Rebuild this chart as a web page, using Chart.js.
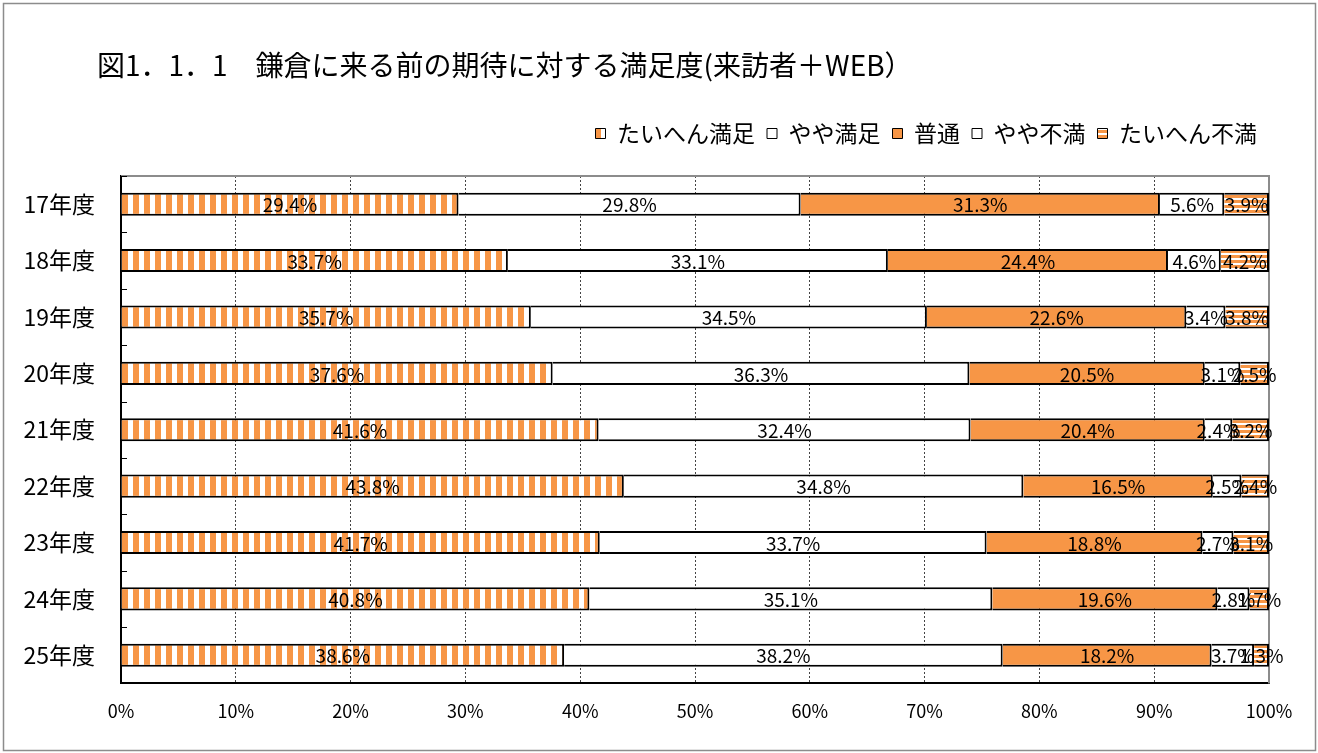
<!DOCTYPE html>
<html lang="ja">
<head>
<meta charset="utf-8">
<title>鎌倉に来る前の期待に対する満足度</title>
<script src="https://cdn.jsdelivr.net/npm/chart.js@4"></script>
<style>
  body { margin: 0; background: #fff; }
  canvas { display: block; }
</style>
</head>
<body>
<canvas id="satisfactionChart" width="1318" height="753"></canvas>
<script>
// data
const years = ["17年度", "18年度", "19年度", "20年度", "21年度", "22年度", "23年度", "24年度", "25年度"];
const seriesNames = ["たいへん満足", "やや満足", "普通", "やや不満", "たいへん不満"];
const veryGood = [29.4, 33.7, 35.7, 37.6, 41.6, 43.8, 41.7, 40.8, 38.6];
const good     = [29.8, 33.1, 34.5, 36.3, 32.4, 34.8, 33.7, 35.1, 38.2];
const normal   = [31.3, 24.4, 22.6, 20.5, 20.4, 16.5, 18.8, 19.6, 18.2];
const bad      = [5.6, 4.6, 3.4, 3.1, 2.4, 2.5, 2.7, 2.8, 3.7];
const veryBad  = [3.9, 4.2, 3.8, 2.5, 3.2, 2.4, 3.1, 1.7, 1.3];
const xTicks = [0, 10, 20, 30, 40, 50, 60, 70, 80, 90, 100];
const titleText = "図1．1．1　鎌倉に来る前の期待に対する満足度(来訪者＋WEB）";

const ORANGE = "#F79646";
const FONT = "'Noto Sans CJK JP', 'Noto Sans', sans-serif";

// striped fills
function stripes(vertical) {
  const c = document.createElement("canvas");
  const g = c.getContext("2d");
  if (vertical) {
    c.width = 11; c.height = 4;
    g.fillStyle = "#fff"; g.fillRect(0, 0, 11, 4);
    g.fillStyle = ORANGE; g.fillRect(1, 0, 6, 4);
  } else {
    c.width = 4; c.height = 5;
    g.fillStyle = "#fff"; g.fillRect(0, 0, 4, 5);
    g.fillStyle = ORANGE; g.fillRect(0, 0, 4, 3);
  }
  return g.createPattern(c, "repeat");
}

const fills = [stripes(true), "#ffffff", ORANGE, "#ffffff", stripes(false)];
const values = [veryGood, good, normal, bad, veryBad];

const datasets = values.map((arr, i) => ({
  label: seriesNames[i],
  data: arr,
  backgroundColor: fills[i],
  borderColor: "#000",
  borderWidth: 2,
  barPercentage: 0.41,
  categoryPercentage: 1,
}));

// page frame, title, plot border (top / right), inside category ticks
const framePlugin = {
  id: "frame",
  beforeDraw(chart) {
    const ctx = chart.ctx;
    ctx.save();
    ctx.fillStyle = "#fff";
    ctx.fillRect(0, 0, chart.width, chart.height);
    ctx.strokeStyle = "#8c8c8c";
    ctx.lineWidth = 1.5;
    ctx.strokeRect(3.5, 3.5, chart.width - 6, chart.height - 6);
    ctx.font = "28px " + FONT;
    ctx.fillStyle = "#000";
    ctx.textBaseline = "middle";
    ctx.fillText(titleText, 97, 65);
    ctx.restore();
  },
  beforeDatasetsDraw(chart) {
    const a = chart.chartArea;
    const ctx = chart.ctx;
    const y = chart.scales.y;
    ctx.save();
    ctx.strokeStyle = "#8c8c8c";
    ctx.lineWidth = 2;
    ctx.beginPath();
    ctx.moveTo(a.left, a.top);
    ctx.lineTo(a.right, a.top);
    ctx.lineTo(a.right, a.bottom);
    ctx.stroke();
    ctx.strokeStyle = "#000";
    ctx.lineWidth = 1;
    ctx.beginPath();
    for (let i = 0; i <= years.length; i++) {
      const py = Math.round(y.getPixelForValue(i - 0.5)) + 0.5;
      ctx.moveTo(a.left, py);
      ctx.lineTo(a.left + 6, py);
    }
    ctx.stroke();
    ctx.restore();
  },
};

// percent labels in the middle of each segment
const valueLabels = {
  id: "valueLabels",
  afterDatasetsDraw(chart) {
    const ctx = chart.ctx;
    ctx.save();
    ctx.font = "19px " + FONT;
    ctx.fillStyle = "#000";
    ctx.textAlign = "center";
    ctx.textBaseline = "middle";
    chart.data.datasets.forEach((ds, i) => {
      chart.getDatasetMeta(i).data.forEach((bar, j) => {
        const x = (bar.x + bar.base) / 2;
        ctx.fillText(ds.data[j].toFixed(1) + "%", x, bar.y + 1);
      });
    });
    ctx.restore();
  },
};

const config = {
  type: "bar",
  data: { labels: years, datasets: datasets },
  options: {
    indexAxis: "y",
    responsive: false,
    animation: false,
    layout: { padding: { left: 0, right: 49, top: 110, bottom: 14 } },
    scales: {
      x: {
        stacked: true,
        min: 0,
        max: 100,
        afterBuildTicks(scale) { scale.ticks = xTicks.map(v => ({ value: v })); },
        ticks: {
          callback: v => v + "%",
          color: "#000",
          padding: 17,
          maxRotation: 0,
          font: { family: FONT, size: 18 },
        },
        grid: { color: "#444", lineWidth: 1, drawTicks: false },
        border: { color: "#000", width: 2, dash: [2, 2] },
      },
      y: {
        stacked: true,
        afterFit(scale) { scale.width = 121; },
        ticks: {
          color: "#000",
          padding: 18,
          font: { family: FONT, size: 23 },
        },
        grid: { display: false },
        border: { color: "#000", width: 2 },
      },
    },
    plugins: {
      title: { display: false },
      subtitle: {
        display: true,
        text: "",
        weight: 500,
        font: { size: 10, lineHeight: 1 },
        padding: { top: 11, bottom: 0 },
      },
      legend: {
        position: "top",
        align: "end",
        labels: {
          color: "#000",
          boxWidth: 10,
          boxHeight: 10,
          padding: 12,
          font: { family: FONT, size: 23 },
          generateLabels(chart) {
            return Chart.defaults.plugins.legend.labels.generateLabels(chart).map(l => {
              l.lineWidth = 1;
              return l;
            });
          },
        },
      },
      tooltip: { enabled: false },
    },
  },
  plugins: [framePlugin, valueLabels],
};

const ctx = document.getElementById("satisfactionChart").getContext("2d");
const satisfactionChart = new Chart(ctx, config);
</script>
</body>
</html>
